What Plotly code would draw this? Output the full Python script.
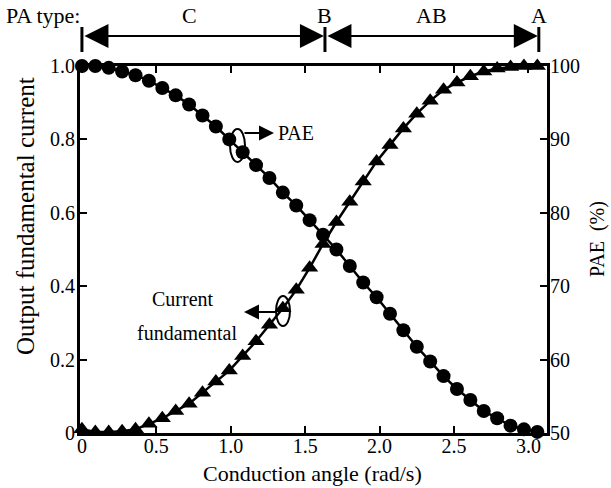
import plotly.graph_objects as go

# ---- data ----
angle = [0.00, 0.09, 0.18, 0.27, 0.36, 0.45, 0.54, 0.63, 0.72, 0.81, 0.90, 0.99,
         1.08, 1.17, 1.26, 1.35, 1.44, 1.53, 1.62, 1.71, 1.80, 1.89, 1.98, 2.07,
         2.16, 2.25, 2.34, 2.43, 2.52, 2.61, 2.70, 2.79, 2.88, 2.97, 3.06]
current = [0.010, 0.003, 0.003, 0.005, 0.010, 0.025, 0.040, 0.060, 0.080, 0.110,
           0.140, 0.170, 0.210, 0.250, 0.295, 0.340, 0.390, 0.450, 0.515, 0.575,
           0.630, 0.685, 0.740, 0.785, 0.830, 0.870, 0.905, 0.935, 0.955, 0.972,
           0.985, 0.993, 0.997, 1.000, 1.000]
pae = [100.0, 100.0, 99.75, 99.25, 98.75, 98.0, 97.0, 96.0, 94.75, 93.25,
       91.75, 90.0, 88.25, 86.5, 84.75, 82.75, 81.0, 79.0, 77.0, 75.0,
       72.75, 70.5, 68.5, 66.25, 64.0, 61.75, 59.75, 57.75, 56.0, 54.5,
       53.0, 52.0, 51.0, 50.5, 50.15]

x_ticks = [0, 0.5, 1.0, 1.5, 2.0, 2.5, 3.0]
x_tick_text = ["0", "0.5", "1.0", "1.5", "2.0", "2.5", "3.0"]
yl_ticks = [0, 0.2, 0.4, 0.6, 0.8, 1.0]
yl_tick_text = ["0", "0.2", "0.4", "0.6", "0.8", "1.0"]
yr_ticks = [50, 60, 70, 80, 90, 100]

pa_types = ["C", "B", "AB", "A"]
pa_type_pos = [0.72, 1.633, 2.35, 3.07]
pa_bounds = [0.0, 1.633, 3.07]

FONT = "Liberation Serif"

fig = go.Figure()
fig.add_trace(go.Scatter(x=angle, y=current, mode="lines+markers",
                         line=dict(color="black", width=2.5),
                         marker=dict(symbol="triangle-up", size=15, color="black"),
                         cliponaxis=False, showlegend=False))
fig.add_trace(go.Scatter(x=angle, y=pae, mode="lines+markers", yaxis="y2",
                         line=dict(color="black", width=2.5),
                         marker=dict(symbol="circle", size=14, color="black"),
                         cliponaxis=False, showlegend=False))

L, R, T, B = 80, 64, 66, 55
W, H = 611, 488
PW, PH = W - L - R, H - T - B


def px(x):
    return (x - L) / PW


def py(y):
    return (H - B - y) / PH


axis_common = dict(showgrid=False, zeroline=False, showline=True, linecolor="black",
                   linewidth=3, ticks="inside", ticklen=7, tickwidth=2,
                   tickcolor="black",
                   tickfont=dict(family=FONT, size=20, color="black"))

fig.update_layout(
    width=W, height=H, margin=dict(l=L, r=R, t=T, b=B),
    paper_bgcolor="white", plot_bgcolor="white",
    xaxis=dict(range=[-0.013, 3.125], tickvals=x_ticks, ticktext=x_tick_text,
               mirror="ticks", ticklabelstandoff=-7, **axis_common),
    yaxis=dict(range=[0, 1], tickvals=yl_ticks, ticktext=yl_tick_text,
               ticklabelstandoff=-2, **axis_common),
    yaxis2=dict(range=[50, 100], tickvals=yr_ticks, overlaying="y", side="right",
                ticklabelstandoff=-4, **axis_common),
)


def label(text, x, y, size=20, xref="paper", angle=0, xanchor="center"):
    return dict(text=text, x=x, y=y, xref=xref, yref="paper", showarrow=False,
                textangle=angle, xanchor=xanchor, yanchor="middle",
                font=dict(family=FONT, size=size, color="black"))


ann = []
# axis titles
ann.append(label("Conduction angle (rad/s)", px(312), py(473), size=22))
ann.append(label("Output fundamental current", px(25), py(216), size=25, angle=-90))
ann.append(label("PAE  (%)", px(597), py(239), size=20, angle=-90))
# PA type header
ann.append(label("PA type:", px(4), py(16), size=22, xanchor="left"))
for name, pos in zip(pa_types, pa_type_pos):
    ann.append(label(name, pos, py(16), size=22, xref="x"))
for a, b in zip(pa_bounds[:-1], pa_bounds[1:]):
    ann.append(dict(text="", x=b, y=py(36), xref="x", yref="paper",
                    ax=a, ay=0, axref="x", ayref="pixel", showarrow=True,
                    arrowside="end+start", arrowhead=2, startarrowhead=2,
                    arrowsize=2.4, startarrowsize=2.4, arrowwidth=2,
                    arrowcolor="black", standoff=1, startstandoff=1))
# PAE callout
ann.append(dict(text="", x=px(274), y=py(133), xref="paper", yref="paper",
                ax=-31, ay=0, showarrow=True, arrowhead=2, arrowsize=1.5,
                arrowwidth=2, arrowcolor="black"))
ann.append(label("PAE", px(276), py(133), size=20, xanchor="left"))
# Current callout
ann.append(dict(text="", x=px(244), y=py(312), xref="paper", yref="paper",
                ax=34, ay=0, showarrow=True, arrowhead=2, arrowsize=1.5,
                arrowwidth=2, arrowcolor="black"))
ann.append(label("Current", px(183), py(299), size=20))
ann.append(label("fundamental", px(187), py(333), size=20))
fig.update_layout(annotations=ann)

shapes = []
for b in pa_bounds:
    shapes.append(dict(type="line", xref="x", yref="paper", x0=b, x1=b,
                       y0=py(52), y1=py(27), line=dict(color="black", width=3)))
shapes.append(dict(type="circle", xref="paper", yref="paper", x0=px(230), x1=px(245),
                   y0=py(162), y1=py(129), line=dict(color="black", width=2)))
shapes.append(dict(type="circle", xref="paper", yref="paper", x0=px(276), x1=px(290),
                   y0=py(326), y1=py(296), line=dict(color="black", width=2)))
fig.update_layout(shapes=shapes)

fig.write_html("out.html")
